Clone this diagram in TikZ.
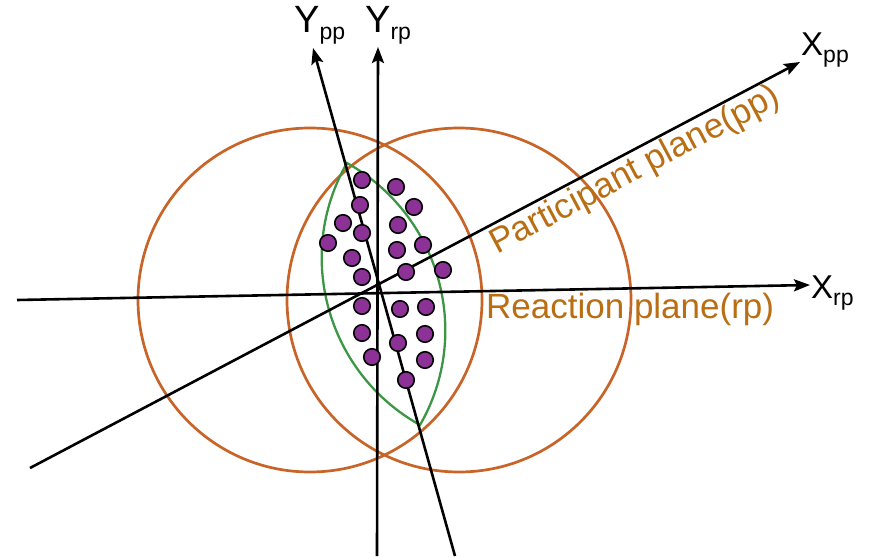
\documentclass[tikz,border=0pt]{standalone}
\usepackage{fontspec}
\setmainfont{Liberation Sans}
\usetikzlibrary{arrows.meta}

\definecolor{nucleuscol}{RGB}{200,100,40}
\definecolor{planecol}{RGB}{185,110,20}
\definecolor{overlapcol}{RGB}{60,150,70}
\definecolor{partoncol}{RGB}{140,50,150}

\newcommand{\axislabel}[3]{{\fontsize{#1}{#1}\selectfont #2}\raisebox{-7pt}{\fontsize{23}{23}\selectfont #3}}

\begin{document}
\begin{tikzpicture}[x=1pt, y=-1pt,
  axisline/.style={-{Stealth[length=16pt, width=12pt, inset=3pt]}, line width=2.6pt},
  nucleus/.style={draw=nucleuscol, line width=2.7pt},
  overlap/.style={draw=overlapcol, line width=2.3pt},
  parton/.style={circle, draw=black, fill=partoncol, line width=1.6pt, minimum size=16.5pt, inner sep=0pt},
  axlabel/.style={anchor=base west, inner sep=0pt},
  planelabel/.style={anchor=base west, inner sep=0pt, text=planecol, font=\fontsize{35}{35}\selectfont}
]
\useasboundingbox (0,0) rectangle (870,559);

\node[nucleus, circle, minimum size=344pt, inner sep=0pt] (nucL) at (310,300) {};
\node[nucleus, circle, minimum size=344pt, inner sep=0pt] (nucR) at (459,300) {};

\coordinate (lensT) at (347,163);
\coordinate (lensB) at (420,425);
\draw[overlap] (lensT) .. controls (294,255) and (327,373) .. (lensB)
               .. controls (473,333) and (440,215) .. (lensT) -- cycle;

\coordinate (xrpS) at (17,300);
\coordinate (xrpE) at (810,285);
\coordinate (yrpS) at (377,556);
\coordinate (yrpE) at (378,47);
\coordinate (xppS) at (30,468);
\coordinate (xppE) at (800,62);
\coordinate (yppS) at (455,556);
\coordinate (yppE) at (313,48);

\draw[axisline] (xrpS) -- (xrpE);
\draw[axisline] (yrpS) -- (yrpE);
\draw[axisline] (xppS) -- (xppE);
\draw[axisline] (yppS) -- (yppE);

\foreach \px/\py [count=\k] in {362/180, 396/187, 360/205, 414/207, 343/223, 398/225,
    362/233, 328/243, 423/245, 397/250, 352/258, 406/272, 443/270, 362/277,
    362/306, 400/309, 426/307, 362/333, 425/334, 398/343, 372/357, 425/360, 406/380}
  \node[parton] (p\k) at (\px,\py) {};

\node[axlabel] (ypp) at (294,33) {\axislabel{38}{Y}{pp}};
\node[axlabel] (yrp) at (365,33) {\axislabel{38}{Y}{rp}};
\node[axlabel] (xpp) at (801,56) {\axislabel{33}{X}{pp}};
\node[axlabel] (xrp) at (811,298) {\axislabel{33}{X}{rp}};

\node[planelabel, rotate=28] (pplane) at (497,255) {Participant plane(pp)};
\node[planelabel] (rplane) at (486,318) {Reaction plane(rp)};

\end{tikzpicture}
\end{document}
